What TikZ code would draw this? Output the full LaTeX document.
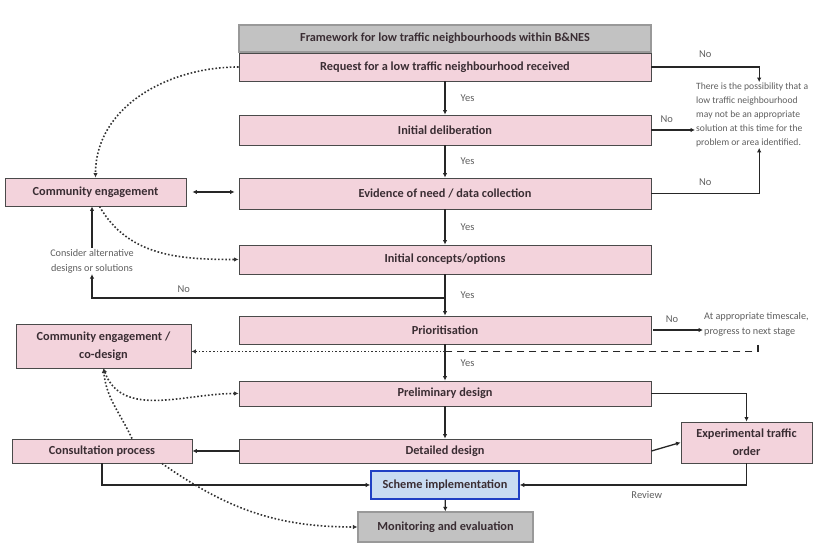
\documentclass[tikz,border=0pt]{standalone}
\usepackage{fontspec}
\setmainfont{Carlito}
\usepackage{xcolor}
\definecolor{rose}{HTML}{F3D3DC}
\definecolor{edge}{HTML}{4A4A4A}
\definecolor{slate}{HTML}{C2C2C2}
\definecolor{slateedge}{HTML}{999999}
\definecolor{ice}{HTML}{C8DBF2}
\definecolor{royal}{HTML}{1F3FC4}
\definecolor{ink}{HTML}{3A2D33}
\definecolor{note}{HTML}{5E5E5E}
\usepackage{tikz}
\usetikzlibrary{arrows.meta,positioning,calc}
\tikzset{
    stage/.style={draw=edge, fill=rose, line width=0.9pt, align=center, font=\fontsize{12.3}{15}\selectfont\bfseries, text=ink, inner sep=2pt},
    sidebox/.style={draw=edge, fill=rose, line width=0.9pt, align=center, font=\fontsize{12.3}{18}\selectfont\bfseries, text=ink, inner sep=2pt},
    greybox/.style={draw=slateedge, fill=slate, line width=1.2pt, align=center, font=\fontsize{12.3}{15}\selectfont\bfseries, text=ink, inner sep=2pt},
    flow/.style={-{Latex[length=4.5pt,width=4.5pt]}, line width=1.3pt, black!85},
    dotflow/.style={-{Latex[length=4.5pt,width=4.5pt]}, line width=1.6pt, dotted, black!80},
    dashline/.style={line width=1.4pt, dash pattern=on 7pt off 5pt, black!85},
    remark/.style={font=\fontsize{10.2}{15}\selectfont, text=note, align=left, inner sep=1pt},
    tag/.style={font=\fontsize{10.5}{12}\selectfont, text=note, inner sep=1pt}
}

\begin{document}
\begin{tikzpicture}[x=1pt, y=1pt]
  \useasboundingbox (0,0) rectangle (819,556);

  % Main column
  \node[greybox, minimum width=412pt, minimum height=27pt] (title) at (445,517.5) {Framework for low traffic neighbourhoods within B\&NES};
  \node[stage, minimum width=412pt, minimum height=28pt] (req) at (445,489) {Request for a low traffic neighbourhood received};
  \node[stage, minimum width=412pt, minimum height=30pt] (delib) at (445,426) {Initial deliberation};
  \node[stage, minimum width=412pt, minimum height=31pt] (evid) at (445,362.5) {Evidence of need / data collection};
  \node[stage, minimum width=412pt, minimum height=29pt] (concepts) at (445,296.5) {Initial concepts/options};
  \node[stage, minimum width=412pt, minimum height=28pt] (prior) at (445,226) {Prioritisation};
  \node[stage, minimum width=412pt, minimum height=25pt] (prelim) at (445,162.5) {Preliminary design};
  \node[stage, minimum width=412pt, minimum height=24pt] (detail) at (445,105) {Detailed design};
  \node[draw=royal, fill=ice, line width=1.6pt, font=\fontsize{12.3}{15}\selectfont\bfseries, text=ink, inner sep=2pt, minimum width=148pt, minimum height=28pt] (scheme) at (445,71) {Scheme implementation};
  \node[greybox, minimum width=175pt, minimum height=30pt] (monitor) at (445.5,29) {Monitoring and evaluation};

  % Side boxes
  \node[sidebox, minimum width=181pt, minimum height=28pt] (commeng) at (95.5,364) {Community engagement};
  \node[sidebox, minimum width=175pt, minimum height=44pt] (codesign) at (103.5,210) {Community engagement /\\co-design};
  \node[sidebox, minimum width=180pt, minimum height=24pt] (consult) at (102,105) {Consultation process};
  \node[sidebox, minimum width=131pt, minimum height=41pt] (eto) at (746.5,113.5) {Experimental traffic\\order};

  % Notes
  \node[remark, anchor=west, font=\fontsize{9.6}{13.8}\selectfont] (nolts) at (695,441) {There is the possibility that a\\low traffic neighbourhood\\may not be an appropriate\\solution at this time for the\\problem or area identified.};
  \node[remark, anchor=west] (nextnote) at (703,232) {At appropriate timescale,\\progress to next stage};
  \node[remark, align=center] (altnote) at (92,295) {Consider alternative\\designs or solutions};
  \coordinate (waitpt) at (758,211);

  % Yes path
  \draw[flow] (req) -- node[tag, right=14pt]{Yes} (delib);
  \draw[flow] (delib) -- node[tag, right=14pt]{Yes} (evid);
  \draw[flow] (evid) -- node[tag, right=14pt]{Yes} (concepts);
  \draw[flow] (concepts) -- node[tag, right=14pt]{Yes} (prior);
  \draw[flow] (prior) -- node[tag, right=14pt, yshift=-1pt]{Yes} (prelim);
  \draw[flow] (prelim) -- (detail);
  \draw[flow] (scheme) -- (monitor);

  % No branches
  \draw[flow] (req.east) -| node[tag, above=8pt, pos=0.25]{No} ([xshift=7pt]nolts.north);
  \draw[flow] (delib.east) -- node[tag, above=6pt, pos=0.35]{No} (delib.east -| nolts.west);
  \draw[flow] (evid.east) -| node[tag, above=6pt, pos=0.25]{No} ([xshift=7pt]nolts.south);
  \draw[flow, shorten <=2pt] (prior.east) -- node[tag, above=6pt, pos=0.4]{No} (prior.east -| nextnote.west);
  \coordinate (split) at ($(concepts.south)!0.57!(prior.north)$);
  \draw[flow] (split) -| node[tag, above=4pt, pos=0.37]{No} (altnote.south);
  \draw[flow] (altnote.north) -- (altnote.north |- commeng.south);

  % Engagement links
  \draw[{Latex[length=4.5pt,width=4.5pt]}-{Latex[length=4.5pt,width=4.5pt]}, line width=1.3pt, black!85, shorten <=6pt, shorten >=4pt] (commeng.east) -- (evid.west |- commeng.east);
  \draw[dotflow] (req.west) to[out=180, in=90] (commeng.north);
  \draw[dotflow] ([xshift=4pt]commeng.south) to[out=-60, in=180] (concepts.west);
  \coordinate (loopback) at ([yshift=-7pt]prior.south);
  \draw[dashline] (waitpt) |- (loopback);
  \draw[dotflow] (loopback) -- (loopback -| codesign.east);
  \draw[dotflow, <->, >={Latex[length=4.5pt,width=4.5pt]}] (codesign.south) to[out=-70, in=180] (prelim.west);
  \draw[dotflow] ([xshift=30pt]consult.north) to[out=115, in=-85] (codesign.south);
  \draw[dotflow] ([xshift=60pt]consult.south) to[out=-35, in=180] (monitor.west);

  % Design and delivery
  \draw[flow] (detail.west) -- (consult.east);
  \draw[flow] (consult.south) |- (scheme.west);
  \draw[flow] (prelim.east) -| (eto.north);
  \draw[flow] (detail.east) -- (eto.west);
  \draw[flow] (eto.south) |- node[tag, below=5pt, pos=0.72]{Review} (scheme.east);

\end{tikzpicture}
\end{document}
